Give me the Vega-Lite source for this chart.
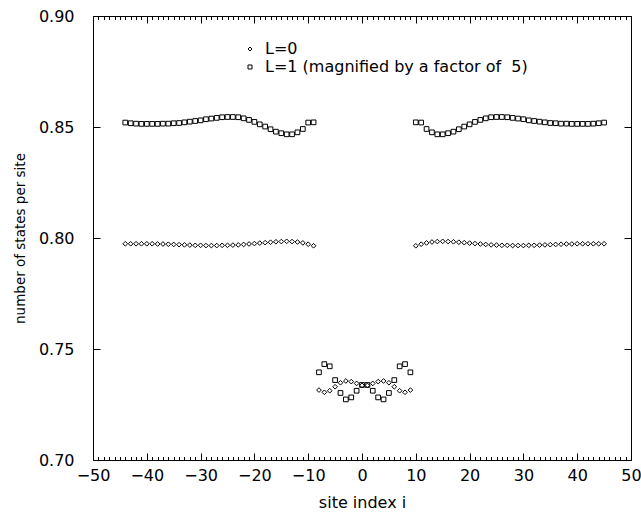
{
  "$schema": "https://vega.github.io/schema/vega-lite/v6.json",
  "width": 538,
  "height": 444,
  "autosize": "none",
  "padding": {"left": 93, "top": 16, "right": 10, "bottom": 55},
  "config": {
    "view": {"stroke": "black", "strokeWidth": 1},
    "font": "DejaVu Sans",
    "axis": {"domain": false, "grid": false, "tickColor": "black", "labelColor": "black", "titleColor": "black", "labelFontSize": 16, "titleFontSize": 16, "titleFontWeight": "normal", "labelFont": "DejaVu Sans", "titleFont": "DejaVu Sans"},
    "legend": {"labelFont": "DejaVu Sans"}
  },
  "datasets": {
    "pts": [
      {"i":-44,"v":0.7974,"s":"L=0"},{"i":-43,"v":0.7974,"s":"L=0"},{"i":-42,"v":0.7974,"s":"L=0"},{"i":-41,"v":0.7974,"s":"L=0"},{"i":-40,"v":0.7974,"s":"L=0"},{"i":-39,"v":0.7974,"s":"L=0"},{"i":-38,"v":0.7973,"s":"L=0"},{"i":-37,"v":0.7973,"s":"L=0"},{"i":-36,"v":0.7972,"s":"L=0"},
      {"i":-35,"v":0.7971,"s":"L=0"},{"i":-34,"v":0.7970,"s":"L=0"},{"i":-33,"v":0.7969,"s":"L=0"},{"i":-32,"v":0.7968,"s":"L=0"},{"i":-31,"v":0.7967,"s":"L=0"},{"i":-30,"v":0.7967,"s":"L=0"},{"i":-29,"v":0.7966,"s":"L=0"},{"i":-28,"v":0.7966,"s":"L=0"},{"i":-27,"v":0.7966,"s":"L=0"},
      {"i":-26,"v":0.7967,"s":"L=0"},{"i":-25,"v":0.7967,"s":"L=0"},{"i":-24,"v":0.7968,"s":"L=0"},{"i":-23,"v":0.7969,"s":"L=0"},{"i":-22,"v":0.7971,"s":"L=0"},{"i":-21,"v":0.7973,"s":"L=0"},{"i":-20,"v":0.7975,"s":"L=0"},{"i":-19,"v":0.7977,"s":"L=0"},{"i":-18,"v":0.7979,"s":"L=0"},
      {"i":-17,"v":0.7981,"s":"L=0"},{"i":-16,"v":0.7983,"s":"L=0"},{"i":-15,"v":0.7984,"s":"L=0"},{"i":-14,"v":0.7985,"s":"L=0"},{"i":-13,"v":0.7984,"s":"L=0"},{"i":-12,"v":0.7982,"s":"L=0"},{"i":-11,"v":0.7978,"s":"L=0"},{"i":-10,"v":0.7972,"s":"L=0"},{"i":-9,"v":0.7965,"s":"L=0"},
      {"i":-8,"v":0.7315,"s":"L=0"},{"i":-7,"v":0.7305,"s":"L=0"},{"i":-6,"v":0.7312,"s":"L=0"},{"i":-5,"v":0.7330,"s":"L=0"},{"i":-4,"v":0.7348,"s":"L=0"},{"i":-3,"v":0.7356,"s":"L=0"},{"i":-2,"v":0.7353,"s":"L=0"},{"i":-1,"v":0.7345,"s":"L=0"},{"i":0,"v":0.7336,"s":"L=0"},
      {"i":1,"v":0.7336,"s":"L=0"},{"i":2,"v":0.7345,"s":"L=0"},{"i":3,"v":0.7353,"s":"L=0"},{"i":4,"v":0.7356,"s":"L=0"},{"i":5,"v":0.7348,"s":"L=0"},{"i":6,"v":0.7330,"s":"L=0"},{"i":7,"v":0.7312,"s":"L=0"},{"i":8,"v":0.7305,"s":"L=0"},{"i":9,"v":0.7315,"s":"L=0"},
      {"i":10,"v":0.7965,"s":"L=0"},{"i":11,"v":0.7972,"s":"L=0"},{"i":12,"v":0.7978,"s":"L=0"},{"i":13,"v":0.7982,"s":"L=0"},{"i":14,"v":0.7984,"s":"L=0"},{"i":15,"v":0.7985,"s":"L=0"},{"i":16,"v":0.7984,"s":"L=0"},{"i":17,"v":0.7983,"s":"L=0"},{"i":18,"v":0.7981,"s":"L=0"},
      {"i":19,"v":0.7979,"s":"L=0"},{"i":20,"v":0.7977,"s":"L=0"},{"i":21,"v":0.7975,"s":"L=0"},{"i":22,"v":0.7973,"s":"L=0"},{"i":23,"v":0.7971,"s":"L=0"},{"i":24,"v":0.7969,"s":"L=0"},{"i":25,"v":0.7968,"s":"L=0"},{"i":26,"v":0.7967,"s":"L=0"},{"i":27,"v":0.7967,"s":"L=0"},
      {"i":28,"v":0.7966,"s":"L=0"},{"i":29,"v":0.7966,"s":"L=0"},{"i":30,"v":0.7966,"s":"L=0"},{"i":31,"v":0.7967,"s":"L=0"},{"i":32,"v":0.7967,"s":"L=0"},{"i":33,"v":0.7968,"s":"L=0"},{"i":34,"v":0.7969,"s":"L=0"},{"i":35,"v":0.7970,"s":"L=0"},{"i":36,"v":0.7971,"s":"L=0"},
      {"i":37,"v":0.7972,"s":"L=0"},{"i":38,"v":0.7973,"s":"L=0"},{"i":39,"v":0.7973,"s":"L=0"},{"i":40,"v":0.7974,"s":"L=0"},{"i":41,"v":0.7974,"s":"L=0"},{"i":42,"v":0.7974,"s":"L=0"},{"i":43,"v":0.7974,"s":"L=0"},{"i":44,"v":0.7974,"s":"L=0"},{"i":45,"v":0.7974,"s":"L=0"},

      {"i":-44,"v":0.8520,"s":"L=1"},{"i":-43,"v":0.8517,"s":"L=1"},{"i":-42,"v":0.8515,"s":"L=1"},{"i":-41,"v":0.8514,"s":"L=1"},{"i":-40,"v":0.8514,"s":"L=1"},{"i":-39,"v":0.8514,"s":"L=1"},{"i":-38,"v":0.8514,"s":"L=1"},{"i":-37,"v":0.8515,"s":"L=1"},{"i":-36,"v":0.8515,"s":"L=1"},
      {"i":-35,"v":0.8517,"s":"L=1"},{"i":-34,"v":0.8518,"s":"L=1"},{"i":-33,"v":0.8521,"s":"L=1"},{"i":-32,"v":0.8524,"s":"L=1"},{"i":-31,"v":0.8527,"s":"L=1"},{"i":-30,"v":0.8530,"s":"L=1"},{"i":-29,"v":0.8535,"s":"L=1"},{"i":-28,"v":0.8538,"s":"L=1"},{"i":-27,"v":0.8541,"s":"L=1"},
      {"i":-26,"v":0.8544,"s":"L=1"},{"i":-25,"v":0.8545,"s":"L=1"},{"i":-24,"v":0.8545,"s":"L=1"},{"i":-23,"v":0.8544,"s":"L=1"},{"i":-22,"v":0.8539,"s":"L=1"},{"i":-21,"v":0.8532,"s":"L=1"},{"i":-20,"v":0.8523,"s":"L=1"},{"i":-19,"v":0.8512,"s":"L=1"},{"i":-18,"v":0.8502,"s":"L=1"},
      {"i":-17,"v":0.8490,"s":"L=1"},{"i":-16,"v":0.8479,"s":"L=1"},{"i":-15,"v":0.8472,"s":"L=1"},{"i":-14,"v":0.8467,"s":"L=1"},{"i":-13,"v":0.8467,"s":"L=1"},{"i":-12,"v":0.8476,"s":"L=1"},{"i":-11,"v":0.8491,"s":"L=1"},{"i":-10,"v":0.8520,"s":"L=1"},{"i":-9,"v":0.8521,"s":"L=1"},
      {"i":-8,"v":0.7395,"s":"L=1"},{"i":-7,"v":0.7432,"s":"L=1"},{"i":-6,"v":0.7422,"s":"L=1"},{"i":-5,"v":0.7360,"s":"L=1"},{"i":-4,"v":0.7302,"s":"L=1"},{"i":-3,"v":0.7273,"s":"L=1"},{"i":-2,"v":0.7282,"s":"L=1"},{"i":-1,"v":0.7312,"s":"L=1"},{"i":0,"v":0.7338,"s":"L=1"},
      {"i":1,"v":0.7338,"s":"L=1"},{"i":2,"v":0.7312,"s":"L=1"},{"i":3,"v":0.7282,"s":"L=1"},{"i":4,"v":0.7273,"s":"L=1"},{"i":5,"v":0.7302,"s":"L=1"},{"i":6,"v":0.7360,"s":"L=1"},{"i":7,"v":0.7422,"s":"L=1"},{"i":8,"v":0.7432,"s":"L=1"},{"i":9,"v":0.7395,"s":"L=1"},
      {"i":10,"v":0.8521,"s":"L=1"},{"i":11,"v":0.8520,"s":"L=1"},{"i":12,"v":0.8491,"s":"L=1"},{"i":13,"v":0.8476,"s":"L=1"},{"i":14,"v":0.8467,"s":"L=1"},{"i":15,"v":0.8467,"s":"L=1"},{"i":16,"v":0.8472,"s":"L=1"},{"i":17,"v":0.8479,"s":"L=1"},{"i":18,"v":0.8490,"s":"L=1"},
      {"i":19,"v":0.8502,"s":"L=1"},{"i":20,"v":0.8512,"s":"L=1"},{"i":21,"v":0.8523,"s":"L=1"},{"i":22,"v":0.8532,"s":"L=1"},{"i":23,"v":0.8539,"s":"L=1"},{"i":24,"v":0.8544,"s":"L=1"},{"i":25,"v":0.8545,"s":"L=1"},{"i":26,"v":0.8545,"s":"L=1"},{"i":27,"v":0.8544,"s":"L=1"},
      {"i":28,"v":0.8541,"s":"L=1"},{"i":29,"v":0.8538,"s":"L=1"},{"i":30,"v":0.8535,"s":"L=1"},{"i":31,"v":0.8530,"s":"L=1"},{"i":32,"v":0.8527,"s":"L=1"},{"i":33,"v":0.8524,"s":"L=1"},{"i":34,"v":0.8521,"s":"L=1"},{"i":35,"v":0.8518,"s":"L=1"},{"i":36,"v":0.8517,"s":"L=1"},
      {"i":37,"v":0.8515,"s":"L=1"},{"i":38,"v":0.8515,"s":"L=1"},{"i":39,"v":0.8514,"s":"L=1"},{"i":40,"v":0.8514,"s":"L=1"},{"i":41,"v":0.8514,"s":"L=1"},{"i":42,"v":0.8514,"s":"L=1"},{"i":43,"v":0.8515,"s":"L=1"},{"i":44,"v":0.8517,"s":"L=1"},{"i":45,"v":0.8520,"s":"L=1"}
    ]
  },
  "data": {"name": "pts"},
  "layer": [
    {
      "mark": {"type": "point", "filled": false, "stroke": "black", "strokeWidth": 1, "size": 22, "opacity": 1},
      "encoding": {
        "x": {"field": "i", "type": "quantitative", "scale": {"domain": [-50, 50], "nice": false, "zero": false},
          "axis": {"orient": "bottom", "title": "site index i", "titlePadding": 8,
            "values": [-50,-49,-48,-47,-46,-45,-44,-43,-42,-41,-40,-39,-38,-37,-36,-35,-34,-33,-32,-31,-30,-29,-28,-27,-26,-25,-24,-23,-22,-21,-20,-19,-18,-17,-16,-15,-14,-13,-12,-11,-10,-9,-8,-7,-6,-5,-4,-3,-2,-1,0,1,2,3,4,5,6,7,8,9,10,11,12,13,14,15,16,17,18,19,20,21,22,23,24,25,26,27,28,29,30,31,32,33,34,35,36,37,38,39,40,41,42,43,44,45,46,47,48,49,50],
            "labelExpr": "datum.value % 10 === 0 ? datum.label : ''",
            "labelOverlap": false, "labelFlush": false, "labelPadding": 14,
            "tickSize": {"condition": {"test": "datum.value % 10 === 0", "value": -7}, "value": -3.5}}},
        "y": {"field": "v", "type": "quantitative", "scale": {"domain": [0.7, 0.9], "nice": false, "zero": false},
          "axis": {"orient": "left", "title": "number of states per site", "titleFontSize": 13.5, "titlePadding": 11,
            "values": [0.7, 0.75, 0.8, 0.85, 0.9], "format": ".2f", "tickSize": -7, "labelPadding": 26}},
        "shape": {"field": "s", "type": "nominal", "scale": {"domain": ["L=0", "L=1"], "range": ["diamond", "square"]},
          "legend": {"orient": "none", "legendX": 149, "legendY": 25, "title": null, "padding": 0,
            "labelFontSize": 16, "labelLimit": 0, "symbolSize": 16, "symbolStrokeColor": "black", "symbolStrokeWidth": 1, "symbolFillColor": "transparent",
            "rowPadding": 2, "labelOffset": 7,
            "labelExpr": "datum.label == 'L=1' ? 'L=1 (magnified by a factor of \u00a05)' : datum.label"}}
      }
    },
    {
      "mark": {"type": "point", "opacity": 0},
      "encoding": {
        "x": {"field": "i", "type": "quantitative",
          "axis": {"orient": "top", "title": null, "labels": false,
            "values": [-50,-49,-48,-47,-46,-45,-44,-43,-42,-41,-40,-39,-38,-37,-36,-35,-34,-33,-32,-31,-30,-29,-28,-27,-26,-25,-24,-23,-22,-21,-20,-19,-18,-17,-16,-15,-14,-13,-12,-11,-10,-9,-8,-7,-6,-5,-4,-3,-2,-1,0,1,2,3,4,5,6,7,8,9,10,11,12,13,14,15,16,17,18,19,20,21,22,23,24,25,26,27,28,29,30,31,32,33,34,35,36,37,38,39,40,41,42,43,44,45,46,47,48,49,50],
            "tickSize": {"condition": {"test": "datum.value % 10 === 0", "value": -7}, "value": -3.5}}},
        "y": {"field": "v", "type": "quantitative",
          "axis": {"orient": "right", "title": null, "labels": false, "values": [0.7, 0.75, 0.8, 0.85, 0.9], "tickSize": -7}}
      }
    }
  ],
  "resolve": {"axis": {"x": "independent", "y": "independent"}}
}
